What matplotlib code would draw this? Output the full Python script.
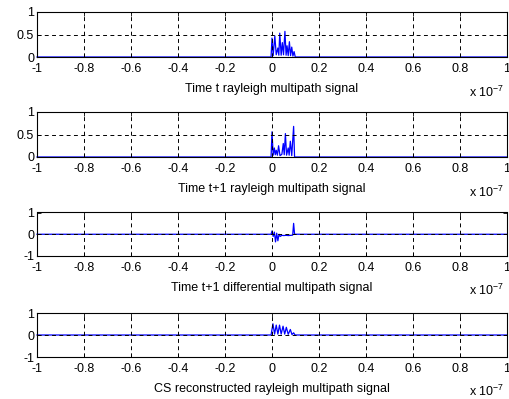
import matplotlib as mpl
mpl.use('Agg')
import matplotlib.pyplot as plt
from matplotlib.ticker import FuncFormatter, MultipleLocator
import numpy as np

plt.rc('font', family='Liberation Sans', size=9)
plt.rc('mathtext', fontset='custom', rm='Liberation Sans', it='Liberation Sans')

# time samples of the nonzero part, in ns; outside it the signals are 0
t1_ns = [-0.4, 0.0, 0.5, 1.2, 1.8, 2.5, 2.9, 3.3, 3.9, 4.4, 4.9, 5.5, 6.0, 6.4, 6.9, 7.4, 7.9, 8.4, 8.9, 9.4, 9.9]
s1 = [0.0, 0.42, 0.03, 0.47, 0.05, 0.2, 0.04, 0.53, 0.04, 0.32, 0.05, 0.57, 0.04, 0.25, 0.03, 0.34, 0.03, 0.22, 0.02, 0.12, 0.0]

t2_ns = [-0.4, 0.0, 0.5, 1.0, 1.4, 1.8, 2.3, 2.8, 3.4, 4.2, 4.8, 5.2, 5.7, 6.2, 6.9, 7.3, 7.8, 8.4, 9.2, 9.6]
s2 = [0.0, 0.56, 0.04, 0.2, 0.05, 0.15, 0.04, 0.25, 0.03, 0.06, 0.3, 0.05, 0.52, 0.04, 0.2, 0.04, 0.35, 0.03, 0.68, 0.0]

t3_ns = [-0.4, 0.0, 0.5, 1.0, 1.5, 2.0, 2.5, 3.0, 3.5, 4.2, 5.0, 6.0, 7.0, 8.0, 8.8, 9.2, 9.6]
s3 = [0.0, 0.15, -0.1, 0.1, -0.35, 0.05, -0.3, 0.0, -0.1, -0.05, -0.06, -0.05, -0.06, -0.05, -0.04, 0.5, 0.0]

t4_ns = [-0.4, 0.4, 1.1, 1.8, 2.5, 3.2, 3.9, 4.7, 5.4, 6.1, 6.9, 7.8, 8.5, 9.2, 9.8]
s4 = [0.0, 0.51, 0.04, 0.45, 0.04, 0.45, 0.04, 0.4, 0.04, 0.35, 0.03, 0.25, 0.02, 0.1, 0.0]

labels = ['Time t rayleigh multipath signal',
          'Time t+1 rayleigh multipath signal',
          'Time t+1 differential multipath signal',
          'CS reconstructed rayleigh multipath signal']
ylims = [(0, 1), (0, 1), (-1, 1), (-1, 1)]
yticks = [[0, 0.5, 1], [0, 0.5, 1], [-1, 0, 1], [-1, 0, 1]]

t_span = 1e-7


def full(t_ns, s):
    t = np.concatenate(([-t_span], np.array(t_ns) * 1e-9, [t_span]))
    y = np.concatenate(([0.0], s, [0.0]))
    return t, y


fig = plt.figure(figsize=(5.10, 3.99), dpi=100)
tops = [12, 112, 212.5, 313]
heights = [45, 45, 43.5, 44]
series = [(t1_ns, s1), (t2_ns, s2), (t3_ns, s3), (t4_ns, s4)]

for k in range(4):
    top = tops[k]
    h = heights[k]
    ax = fig.add_axes([37 / 510, 1 - (top + h) / 399, 470 / 510, h / 399])
    t, y = full(*series[k])
    ax.plot(t, y, color='b', lw=0.9, clip_on=False, zorder=1)
    ax.set_xlim(-t_span, t_span)
    ax.set_ylim(*ylims[k])
    ax.set_yticks(yticks[k])
    ax.xaxis.set_major_locator(MultipleLocator(0.2e-7))
    ax.xaxis.set_major_formatter(FuncFormatter(lambda v, p: '%g' % round(v / 1e-7, 6)))
    ax.yaxis.set_major_formatter(FuncFormatter(lambda v, p: '%g' % v))
    ax.tick_params(direction='in', length=3, width=0.6, top=True, right=True, labelsize=9)
    ax.tick_params(axis='x', pad=4)
    ax.tick_params(axis='y', pad=2)
    ax.grid(True, color='k', linestyle=(0, (4, 3.5)), linewidth=0.7)
    ax.set_axisbelow(False)
    # no grid lines on the box edges
    for gl in (ax.get_xgridlines()[0], ax.get_xgridlines()[-1],
               ax.get_ygridlines()[0], ax.get_ygridlines()[-1]):
        gl.set_visible(False)
    for sp in ax.spines.values():
        sp.set_linewidth(0.8)
        sp.set_zorder(3)
    ax.set_xlabel(labels[k], labelpad=6)
    ax.text(0.995, -0.62, r'x 10$^{-7}$', transform=ax.transAxes, ha='right', va='top', fontsize=9)

fig.savefig('out.png', dpi=100)
